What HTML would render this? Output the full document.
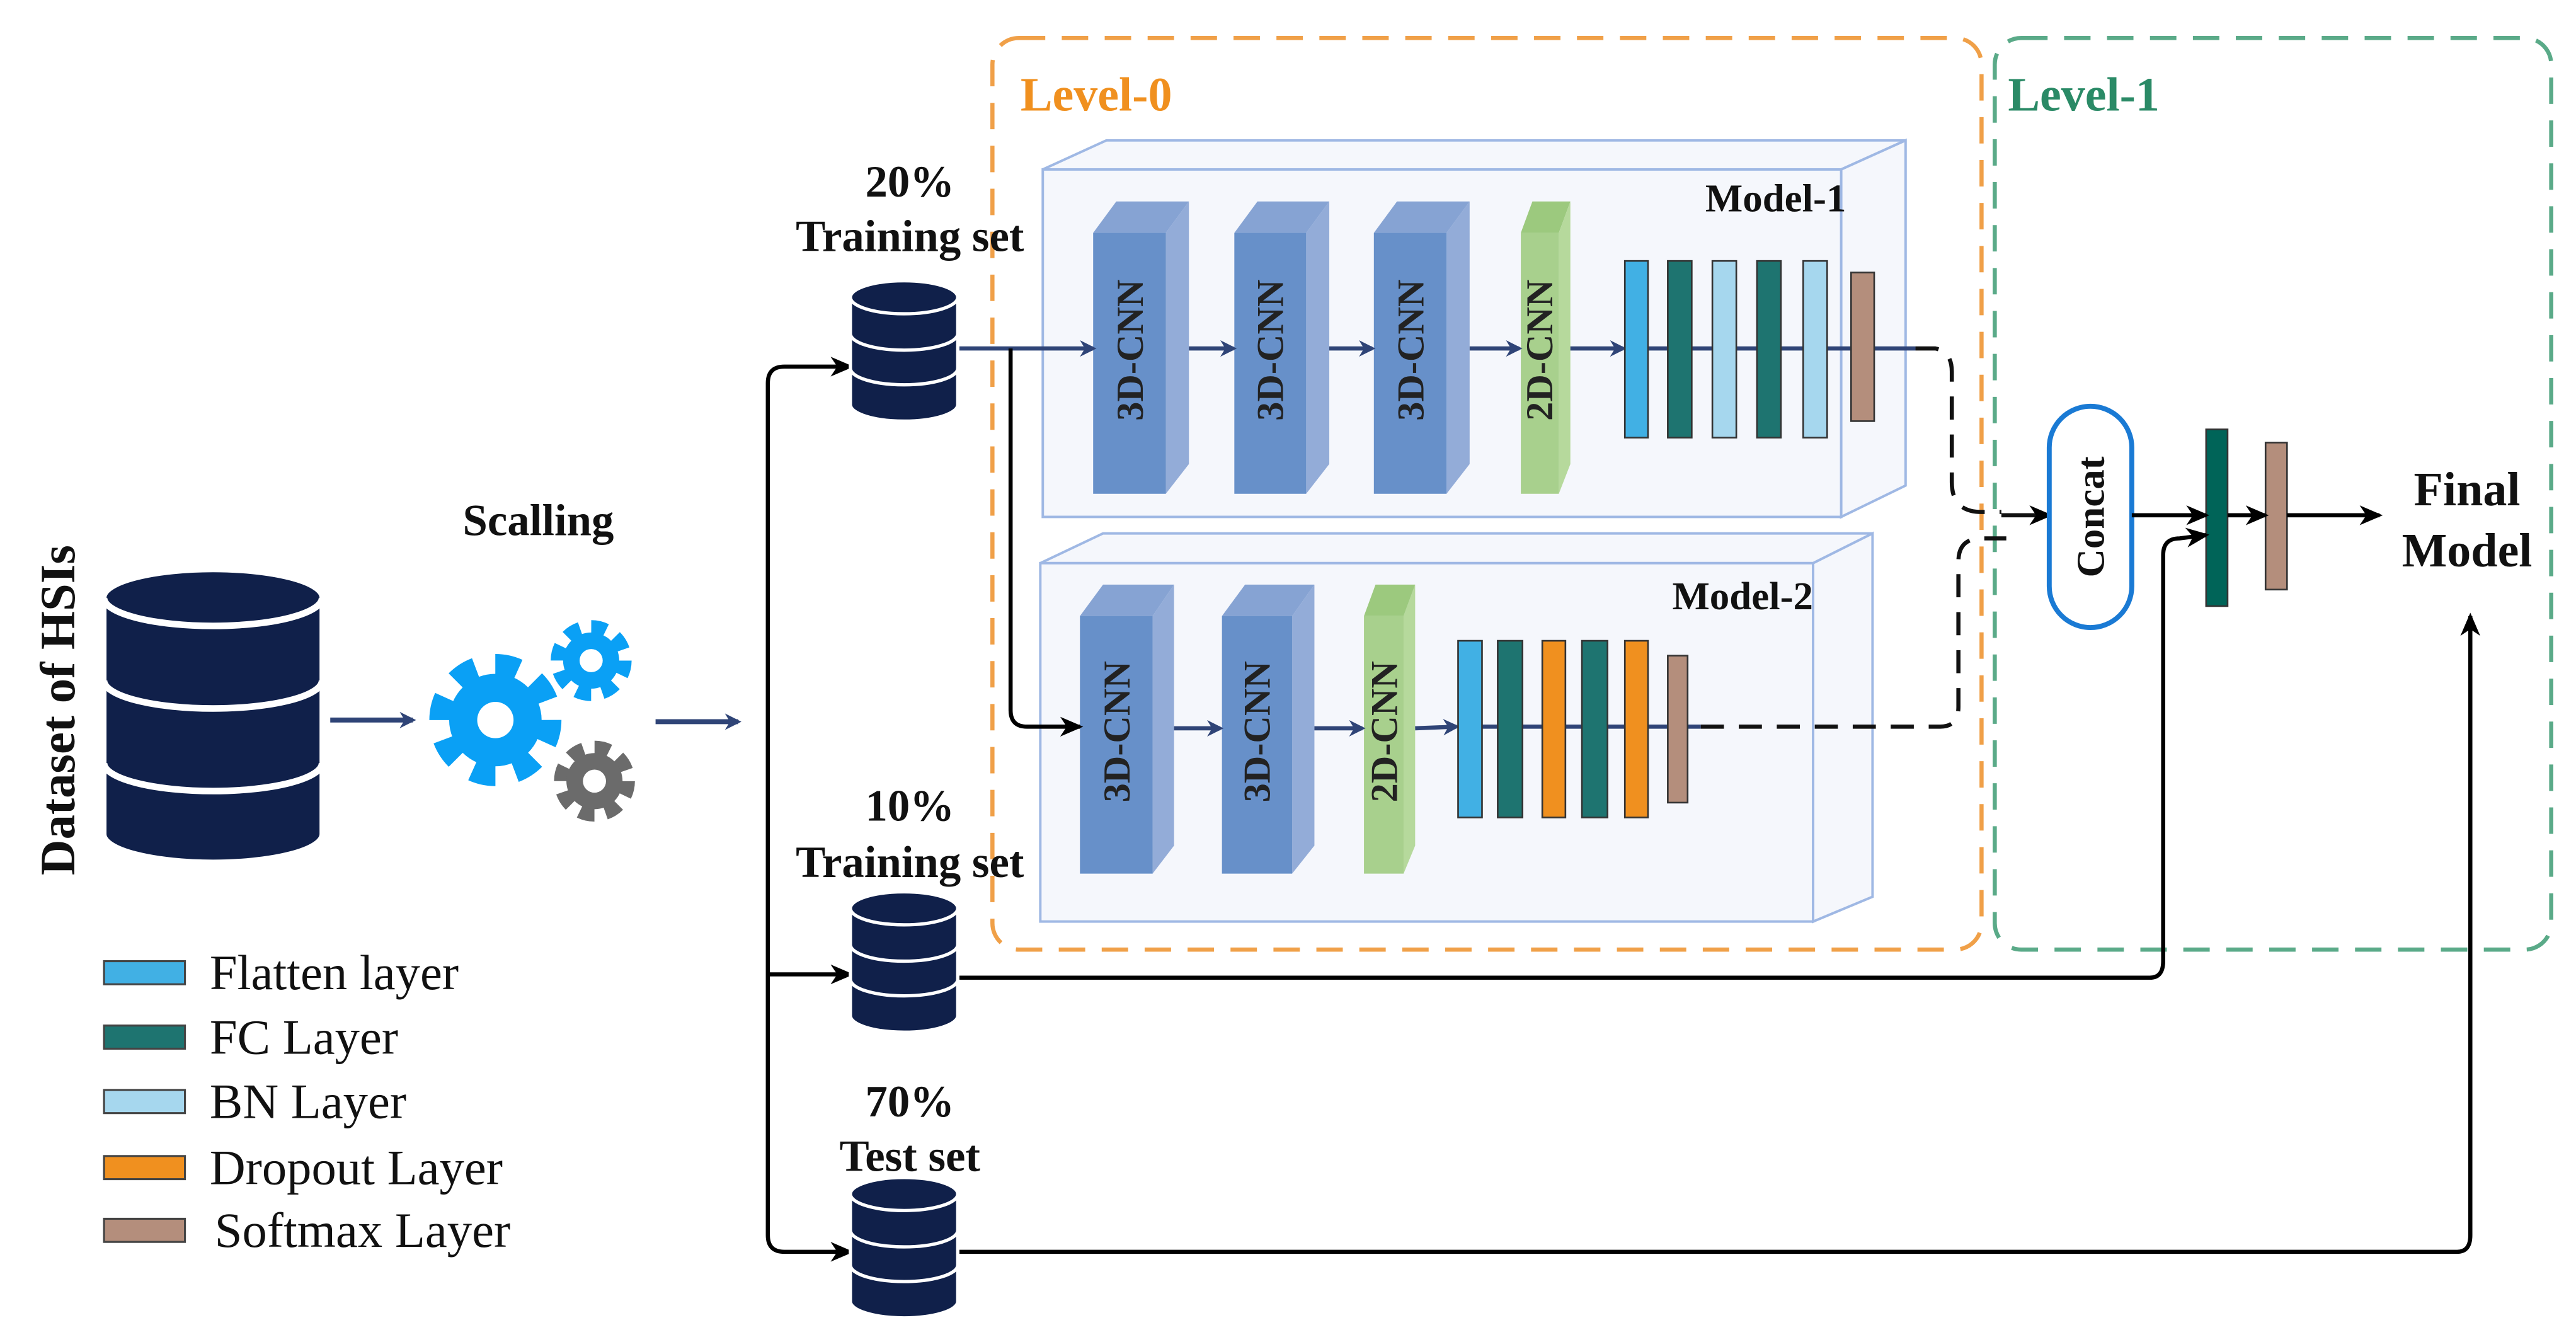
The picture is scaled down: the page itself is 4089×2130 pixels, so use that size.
<!DOCTYPE html>
<html><head><meta charset="utf-8"><style>html,body{margin:0;padding:0;background:#fff}svg{display:block}</style></head>
<body>
<svg width="4089" height="2130" viewBox="0 0 1560 812.6" preserveAspectRatio="none" xmlns="http://www.w3.org/2000/svg" font-family="Liberation Serif, serif">
<defs>
<marker id="an" markerWidth="10" markerHeight="10" refX="8" refY="5" orient="auto" markerUnits="userSpaceOnUse"><path d="M0,0 L10,5 L0,10 L3,5 Z" fill="#2f4477"/></marker>
<marker id="ak" markerWidth="14" markerHeight="12" refX="12" refY="6" orient="auto" markerUnits="userSpaceOnUse"><path d="M0,0 L14,6 L0,12 L4,6 Z" fill="#000"/></marker>
</defs>

<rect x="601" y="23" width="599" height="552" rx="16" fill="none" stroke="#f0a048" stroke-width="2.5" stroke-dasharray="16,10"/>
<rect x="1208" y="23" width="337" height="552" rx="16" fill="none" stroke="#5aaa88" stroke-width="2.5" stroke-dasharray="16,10"/>
<text x="618" y="67" font-size="29" font-weight="bold" fill="#f0901f">Level-0</text>
<text x="1216" y="67" font-size="29" font-weight="bold" fill="#2a8a66">Level-1</text>

<g stroke="#9fb8e4" stroke-width="1.5" fill="#f5f7fc">
<polygon points="631.5,102.6 670,85 1154,85 1115,102.6"/>
<polygon points="1115,102.6 1154,85 1154,294 1115,313"/>
<rect x="631.5" y="102.6" width="483.5" height="210.4"/>
</g>
<text x="1118" y="128" font-size="24" font-weight="bold" text-anchor="end" fill="#111">Model-1</text>
<g stroke="#9fb8e4" stroke-width="1.5" fill="#f5f7fc">
<polygon points="630,341 668,323 1134,323 1098,341"/>
<polygon points="1098,341 1134,323 1134,543 1098,558"/>
<rect x="630" y="341" width="468" height="217"/>
</g>
<text x="1098" y="369" font-size="24" font-weight="bold" text-anchor="end" fill="#111">Model-2</text>

<g>
<polygon points="662,141 676,122 720,122 706,141" fill="#86a3d3"/>
<polygon points="706,141 720,122 720,281 706,299" fill="#93acd8"/>
<rect x="662" y="141" width="44" height="158" fill="#6790c9"/>
<polygon points="747.5,141 761.5,122 805,122 791,141" fill="#86a3d3"/>
<polygon points="791,141 805,122 805,281 791,299" fill="#93acd8"/>
<rect x="747.5" y="141" width="43.5" height="158" fill="#6790c9"/>
<polygon points="832,141 846,122 890,122 876,141" fill="#86a3d3"/>
<polygon points="876,141 890,122 890,281 876,299" fill="#93acd8"/>
<rect x="832" y="141" width="44" height="158" fill="#6790c9"/>
<polygon points="921,141 928,122 951,122 944,141" fill="#9cc97e"/>
<polygon points="944,141 951,122 951,281 944,299" fill="#b6d99c"/>
<rect x="921" y="141" width="23" height="158" fill="#a8d08d"/>
</g>
<g font-size="23" font-weight="bold" fill="#222" text-anchor="middle">
<text transform="translate(692,212) rotate(-90)">3D-CNN</text>
<text transform="translate(777,212) rotate(-90)">3D-CNN</text>
<text transform="translate(862,212) rotate(-90)">3D-CNN</text>
<text transform="translate(940,212) rotate(-90)">2D-CNN</text>
</g>
<g stroke="#2f4477" stroke-width="2.5" marker-end="url(#an)">
<line x1="580" y1="211" x2="662" y2="211"/>
<line x1="720" y1="211" x2="747" y2="211"/>
<line x1="805" y1="211" x2="831" y2="211"/>
<line x1="890" y1="211" x2="920" y2="211"/>
<line x1="951" y1="211" x2="983" y2="211"/>
</g>
<line x1="998" y1="211" x2="1160" y2="211" stroke="#2f4477" stroke-width="2.5"/>
<g stroke="#333" stroke-width="1">
<rect x="984" y="158" width="14" height="107" fill="#41b0e4"/>
<rect x="1010" y="158" width="14.5" height="107" fill="#1e7470"/>
<rect x="1037" y="158" width="14.5" height="107" fill="#a6d7ee"/>
<rect x="1064" y="158" width="14.5" height="107" fill="#1e7470"/>
<rect x="1092" y="158" width="14.5" height="107" fill="#a6d7ee"/>
<rect x="1121" y="165" width="14" height="90" fill="#b48e7c"/>
</g>

<g>
<polygon points="654,373 668,354 711,354 698,373" fill="#86a3d3"/>
<polygon points="698,373 711,354 711,512 698,529" fill="#93acd8"/>
<rect x="654" y="373" width="44" height="156" fill="#6790c9"/>
<polygon points="740,373 754,354 796,354 782.5,373" fill="#86a3d3"/>
<polygon points="782.5,373 796,354 796,512 782.5,529" fill="#93acd8"/>
<rect x="740" y="373" width="42.5" height="156" fill="#6790c9"/>
<polygon points="826,373 833,354 857,354 850,373" fill="#9cc97e"/>
<polygon points="850,373 857,354 857,512 850,529" fill="#b6d99c"/>
<rect x="826" y="373" width="24" height="156" fill="#a8d08d"/>
</g>
<g font-size="23" font-weight="bold" fill="#222" text-anchor="middle">
<text transform="translate(684,443) rotate(-90)">3D-CNN</text>
<text transform="translate(769,443) rotate(-90)">3D-CNN</text>
<text transform="translate(846,443) rotate(-90)">2D-CNN</text>
</g>
<g stroke="#2f4477" stroke-width="2.5" marker-end="url(#an)">
<line x1="711" y1="441" x2="739" y2="441"/>
<line x1="796" y1="441" x2="825" y2="441"/>
<line x1="857" y1="441" x2="882" y2="440"/>
</g>
<line x1="897" y1="440" x2="1030" y2="440" stroke="#2f4477" stroke-width="2.5"/>
<g stroke="#333" stroke-width="1">
<rect x="883" y="388" width="14.5" height="107" fill="#41b0e4"/>
<rect x="907" y="388" width="15" height="107" fill="#1e7470"/>
<rect x="934" y="388" width="14" height="107" fill="#f0901f"/>
<rect x="958" y="388" width="15.5" height="107" fill="#1e7470"/>
<rect x="984" y="388" width="14" height="107" fill="#f0901f"/>
<rect x="1010" y="397" width="12" height="89" fill="#b48e7c"/>
</g>

<g fill="none" stroke="#111" stroke-width="2.5" stroke-dasharray="14,9">
<path d="M1160,211 L1172,211 Q1182,213 1182,225 L1182,292 Q1182,310 1200,310 L1212,310"/>
<path d="M1030,440 L1175,440 Q1186,440 1186,428 L1186,340 Q1186,326 1200,326 L1215,326"/>
</g>
<line x1="1212" y1="312" x2="1241" y2="312" stroke="#111" stroke-width="2.5" marker-end="url(#ak)"/>

<rect x="1241" y="246" width="50" height="134" rx="25" fill="#fff" stroke="#1a7ad4" stroke-width="3"/>
<text transform="translate(1274,313) rotate(-90)" font-size="24" font-weight="bold" text-anchor="middle" fill="#111">Concat</text>
<rect x="1336" y="260" width="13" height="107" fill="#006458" stroke="#333" stroke-width="1"/>
<rect x="1372" y="268" width="13" height="89" fill="#b48e7c" stroke="#333" stroke-width="1"/>
<g stroke="#000" stroke-width="2.5" marker-end="url(#ak)">
<line x1="1291" y1="312" x2="1336" y2="312"/>
<line x1="1349" y1="312" x2="1372" y2="312"/>
<line x1="1385" y1="312" x2="1441" y2="312"/>
</g>
<text x="1494" y="306" font-size="29" font-weight="bold" text-anchor="middle" fill="#111">Final</text>
<text x="1494" y="343" font-size="29" font-weight="bold" text-anchor="middle" fill="#111">Model</text>

<g fill="none" stroke="#000" stroke-width="2.5">
<path d="M612,211 L612,430 Q612,440 622,440 L654,440" marker-end="url(#ak)"/>
<path d="M465,590 L465,232 Q465,222 475,222 L515,222" marker-end="url(#ak)"/>
<path d="M465,590 L515,590" marker-end="url(#ak)"/>
<path d="M465,590 L465,748 Q465,758 475,758 L515,758" marker-end="url(#ak)"/>
<path d="M580,592 L1302,592 Q1310,592 1310,582 L1310,336 Q1310,326 1320,326 L1336,324" marker-end="url(#ak)"/>
<path d="M580,758 L1488,758 Q1496,758 1496,748 L1496,373" marker-end="url(#ak)"/>
</g>

<g fill="#10204a" stroke="#fff" stroke-width="2">
<g transform="translate(515,170)"><path d="M0,10 A32.5,10 0 0 1 65,10 L65,75 A32.5,10 0 0 1 0,75 Z"/><path d="M0,10 A32.5,10 0 0 0 65,10" fill="none"/><path d="M0,32 A32.5,10 0 0 0 65,32 M0,53 A32.5,10 0 0 0 65,53" fill="none"/></g>
<g transform="translate(515,540)"><path d="M0,10 A32.5,10 0 0 1 65,10 L65,75 A32.5,10 0 0 1 0,75 Z"/><path d="M0,10 A32.5,10 0 0 0 65,10" fill="none"/><path d="M0,32 A32.5,10 0 0 0 65,32 M0,53 A32.5,10 0 0 0 65,53" fill="none"/></g>
<g transform="translate(515,713)"><path d="M0,10 A32.5,10 0 0 1 65,10 L65,75 A32.5,10 0 0 1 0,75 Z"/><path d="M0,10 A32.5,10 0 0 0 65,10" fill="none"/><path d="M0,32 A32.5,10 0 0 0 65,32 M0,53 A32.5,10 0 0 0 65,53" fill="none"/></g>
</g>
<g font-size="27" font-weight="bold" text-anchor="middle" fill="#111">
<text x="551" y="119">20%</text><text x="551" y="152">Training set</text>
<text x="551" y="497">10%</text><text x="551" y="531">Training set</text>
<text x="551" y="676">70%</text><text x="551" y="709">Test set</text>
</g>

<g fill="#10204a" stroke="#fff" stroke-width="3">
<path d="M63,362 A66,17 0 0 1 195,362 L195,505 A66,17 0 0 1 63,505 Z"/>
<path d="M63,362 A66,17 0 0 0 195,362 M63,412 A66,17 0 0 0 195,412 M63,462 A66,17 0 0 0 195,462" fill="none" stroke-width="4"/>
</g>
<text transform="translate(45,430) rotate(-90)" font-size="30" font-weight="bold" text-anchor="middle" fill="#111">Dataset of HSIs</text>

<g stroke="#2f4477" stroke-width="3" marker-end="url(#an)">
<line x1="200" y1="436" x2="250" y2="436"/>
<line x1="397" y1="437" x2="447" y2="437"/>
</g>
<text x="326" y="324" font-size="27" font-weight="bold" text-anchor="middle" fill="#111">Scalling</text>
<g>
<circle cx="300" cy="436" r="33" fill="none" stroke="#0aa0f5" stroke-width="14" stroke-dasharray="14,11.9"/>
<circle cx="300" cy="436" r="28" fill="#0aa0f5"/>
<circle cx="300" cy="436" r="11" fill="#fff"/>
<circle cx="358" cy="400" r="20" fill="none" stroke="#0aa0f5" stroke-width="9" stroke-dasharray="9,6.7"/>
<circle cx="358" cy="400" r="17" fill="#0aa0f5"/>
<circle cx="358" cy="400" r="7" fill="#fff"/>
<circle cx="360" cy="473" r="20" fill="none" stroke="#6b6b6b" stroke-width="9" stroke-dasharray="9,6.7"/>
<circle cx="360" cy="473" r="17" fill="#6b6b6b"/>
<circle cx="360" cy="473" r="7" fill="#fff"/>
</g>

<g stroke="#444" stroke-width="1.2">
<rect x="63" y="582" width="49" height="14" fill="#41b0e4"/>
<rect x="63" y="621" width="49" height="14" fill="#1e7470"/>
<rect x="63" y="660" width="49" height="14" fill="#a6d7ee"/>
<rect x="63" y="700" width="49" height="14" fill="#f0901f"/>
<rect x="63" y="738" width="49" height="14" fill="#b48e7c"/>
</g>
<g font-size="30" fill="#111">
<text x="127" y="599">Flatten layer</text>
<text x="127" y="638">FC Layer</text>
<text x="127" y="677">BN Layer</text>
<text x="127" y="717">Dropout Layer</text>
<text x="130" y="755">Softmax Layer</text>
</g>
</svg>
</body></html>
